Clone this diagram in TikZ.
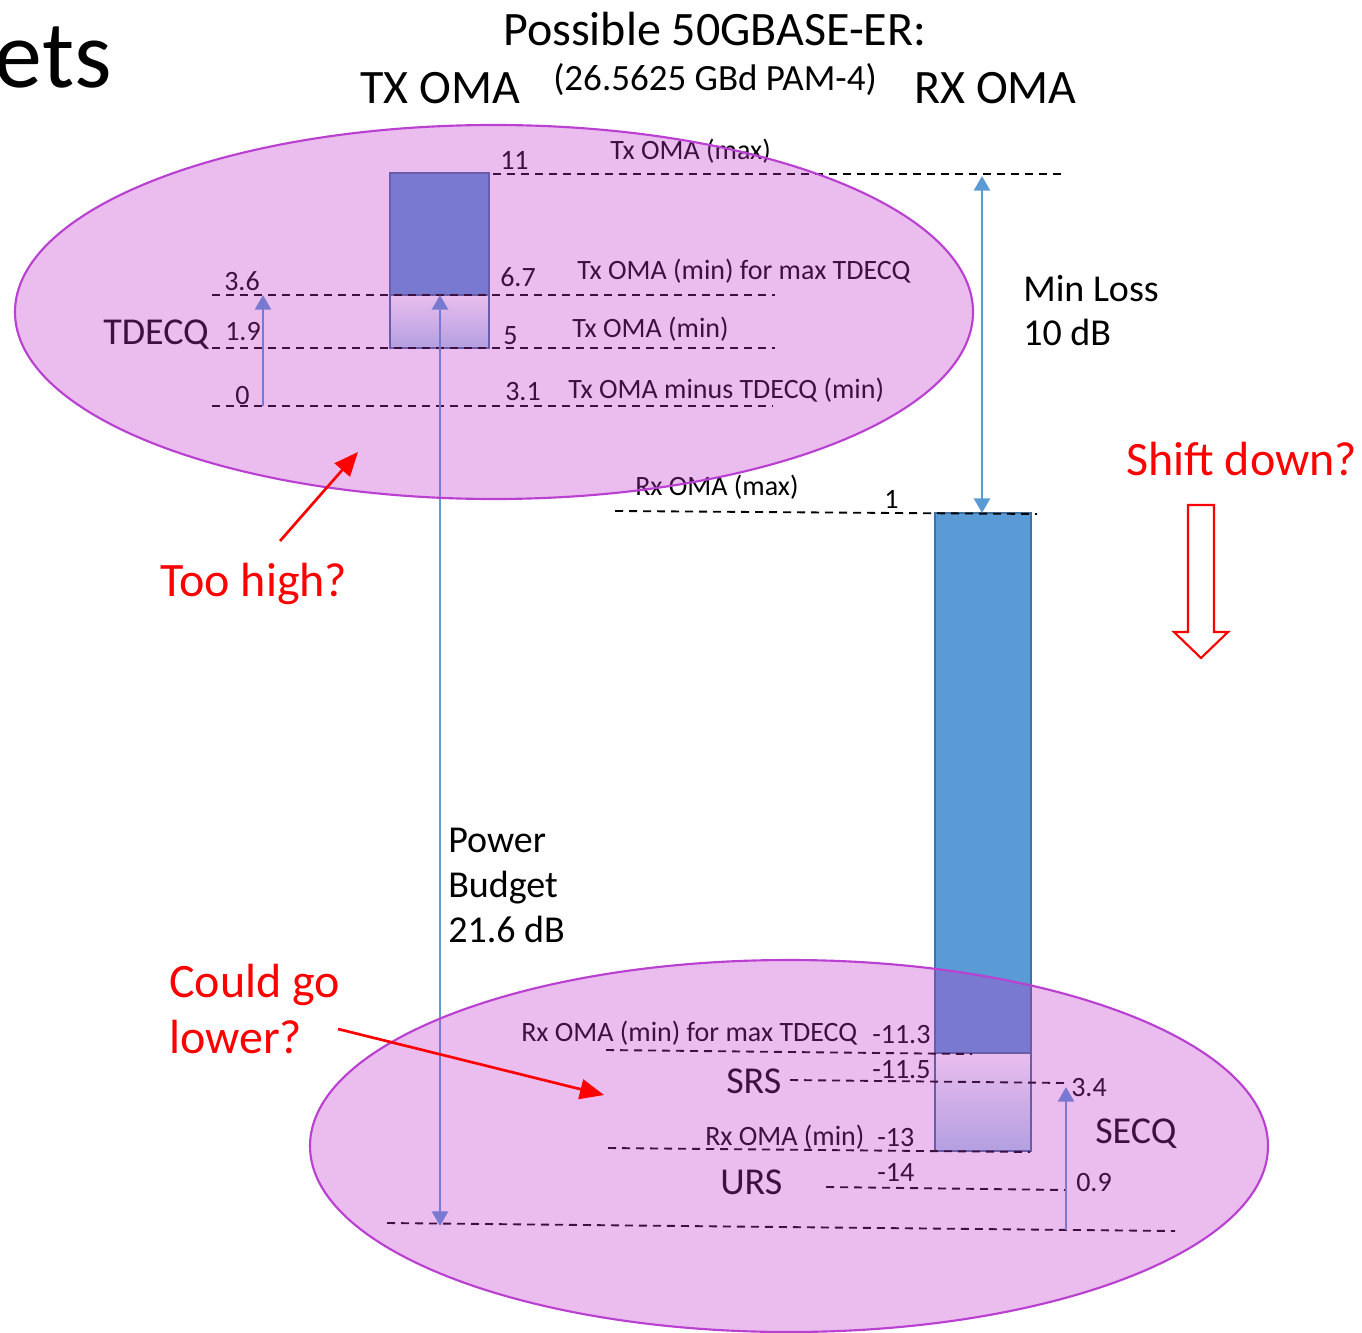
\documentclass[tikz,border=0pt]{standalone}
\usepackage{fontspec}
\setmainfont{Carlito}
\usetikzlibrary{arrows.meta}
\definecolor{barblue}{RGB}{91,155,213}
\definecolor{baredge}{RGB}{65,113,156}
\definecolor{barlight}{RGB}{175,211,236}
\definecolor{haze}{RGB}{190,51,202}
\definecolor{hazeedge}{RGB}{185,64,208}
\definecolor{alert}{RGB}{255,0,0}
\tikzset{
  bluetip/.tip={Triangle[width=12pt,length=11pt]},
  lvl/.style={dash pattern=on 6pt off 4.5pt, line width=1.4pt, black},
  small/.style={font=\fontsize{21}{25}\selectfont, anchor=base west, inner sep=0pt},
  mid/.style={font=\fontsize{28.5}{33}\selectfont, anchor=base west, inner sep=0pt},
  big/.style={font=\fontsize{36}{42}\selectfont, anchor=base west, inner sep=0pt},
  note/.style={big, text=alert},
  span/.style={draw=barblue, line width=2pt, -{bluetip}},
  both/.style={draw=barblue, line width=2pt, {bluetip}-{bluetip}},
  cloud/.style={fill=haze, fill opacity=0.32, draw=hazeedge, draw opacity=1, line width=1.6pt},
  pointer/.style={draw=alert, line width=2pt, -{Triangle[width=15pt,length=18pt]}},
  barframe/.style={draw=baredge, line width=1.5pt},
}
\begin{document}
\begin{tikzpicture}[x=0.75pt,y=-0.75pt]
\useasboundingbox (0,0) rectangle (1362,1333);

% ---------- headings ----------
\node[font=\fontsize{72}{80}\selectfont, anchor=base east, inner sep=0pt] (slide) at (112,88) {ets};
\node[big] (title) at (503,46) {Possible 50GBASE-ER:};
\node[big] (txhead) at (360,104) {TX OMA};
\node[font=\fontsize{27.75}{32}\selectfont, anchor=base west, inner sep=0pt] (rate) at (553,91) {(26.5625 GBd PAM-4)};
\node[big] (rxhead) at (914,104) {RX OMA};

% ---------- transmitter bar ----------
\fill[barblue] (390,173) rectangle (489,295);
\shade[top color=white, bottom color=barlight] (390,295) rectangle (489,348);
\draw[barframe] (390,173) rectangle (489,348);
\draw[barframe] (390,295) -- (489,295);

% ---------- receiver bar ----------
\fill[barblue] (935,513) rectangle (1031,1053);
\shade[top color=white, bottom color=barlight] (935,1053) rectangle (1031,1151);
\draw[barframe] (935,513) rectangle (1031,1151);
\draw[barframe] (935,1053) -- (1031,1053);

% ---------- level lines ----------
\draw[lvl] (493,174) -- (1065,174);
\draw[lvl] (212,295) -- (775,295);
\draw[lvl] (212,348) -- (775,348);
\draw[lvl] (212,406) -- (773,406);
\draw[lvl] (615,511) -- (1037,514);
\draw[lvl] (606,1050) -- (972,1054);
\draw[lvl] (790,1080) -- (1066,1083);
\draw[lvl] (608,1148) -- (1030,1152);
\draw[lvl] (826,1187) -- (1066,1190);
\draw[lvl] (387,1223) -- (1175,1231);

% ---------- transmitter labels ----------
\node[small] (t11) at (500,170) {11};
\node[small] (txmax) at (610,160) {Tx OMA (max)};
\node[small] (t36) at (224,291) {3.6};
\node[small] (t67) at (500,287) {6.7};
\node[small] (txmintd) at (577,280) {Tx OMA (min) for max TDECQ};
\node[mid] (tdecq) at (103,345) {TDECQ};
\node[small] (t19) at (225,341) {1.9};
\node[small] (t5) at (503,345) {5};
\node[small] (txmin) at (572,338) {Tx OMA (min)};
\node[small] (t0) at (235,404) {0};
\node[small] (t31) at (505,401) {3.1};
\node[small] (txminus) at (568,398) {Tx OMA minus TDECQ (min)};

% ---------- receiver labels ----------
\node[small] (rxmax) at (635,495) {Rx OMA (max)};
\node[small] (r1) at (884,508) {1};
\node[small] (rxmintd) at (521,1041) {Rx OMA (min) for max TDECQ};
\node[small] (r113) at (872,1043) {-11.3};
\node[mid] (srs) at (726,1093) {SRS};
\node[small] (r115) at (872,1078) {-11.5};
\node[small] (r34) at (1071,1096) {3.4};
\node[mid] (secq) at (1095,1143) {SECQ};
\node[small] (rxmin) at (705,1145) {Rx OMA (min)};
\node[small] (r13) at (877,1146) {-13};
\node[mid] (urs) at (720,1194) {URS};
\node[small] (r14) at (877,1181) {-14};
\node[small] (r09) at (1076,1191) {0.9};

% ---------- budget and loss spans ----------
\coordinate (lossTop) at (982,176);
\coordinate (lossBot) at (982,513);
\draw[both] (lossTop) -- (lossBot);
\node[mid] (loss1) at (1023,302) {Min Loss};
\node[mid] (loss2) at (1023,346) {10 dB};

\coordinate (budTop) at (440,295);
\coordinate (budBot) at (440,1226);
\draw[both] (budBot) -- (budTop);
\node[mid] (bud1) at (448,852) {Power};
\node[mid] (bud2) at (448,897) {Budget};
\node[mid] (bud3) at (448,942) {21.6 dB};

\coordinate (tdLow) at (263,406);
\coordinate (tdHigh) at (263,295);
\draw[span] (tdLow) -- (tdHigh);

\coordinate (seLow) at (1066,1230);
\coordinate (seHigh) at (1066,1087);
\draw[span] (seLow) -- (seHigh);

% ---------- translucent groupings ----------
\draw[cloud] (494,312) ellipse [x radius=479, y radius=187];
\draw[cloud] (789,1146) ellipse [x radius=479, y radius=186];

% ---------- remarks ----------
\node[note] (shift) at (1126,475) {Shift down?};
\draw[draw=alert, fill=white, line width=1.6pt]
  (1188,505) -- (1214,505) -- (1214,632) -- (1228,632) -- (1201,658)
  -- (1174,632) -- (1188,632) -- cycle;

\node[note] (high) at (160,596) {Too high?};
\coordinate (highTail) at (280,541);
\coordinate (highTip) at (358,452);
\draw[pointer] (highTail) -- (highTip);

\node[note] (lower1) at (169,997) {Could go};
\node[note] (lower2) at (169,1053) {lower?};
\coordinate (lowTail) at (338,1029);
\coordinate (lowTip) at (604,1095);
\draw[pointer] (lowTail) -- (lowTip);
\end{tikzpicture}
\end{document}
